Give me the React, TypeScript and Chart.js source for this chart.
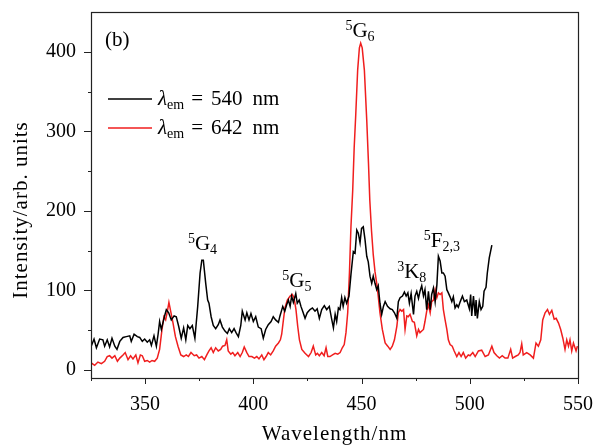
import React, { useEffect, useRef } from 'react';
import { Chart, registerables } from 'chart.js';

Chart.register(...registerables);

const blackWavelengths = [
  325.1, 326.4, 327.5, 329.0, 330.5, 331.3, 332.5, 333.6, 334.7, 336.0,
  337.0, 338.3, 339.8, 341.3, 342.9, 343.6, 344.9, 346.4, 347.5, 348.7,
  349.8, 351.0, 352.1, 352.9, 354.1, 355.2, 356.0, 356.7, 357.5, 359.0,
  359.8, 360.9, 362.1, 363.4, 364.4, 365.5, 366.7, 367.8, 368.8, 369.7,
  370.7, 371.8, 373.0, 374.3, 375.4, 376.2, 376.9, 378.0, 378.9, 379.5,
  380.5, 381.5, 382.6, 383.8, 384.6, 385.7, 386.9, 388.0, 388.9, 390.0,
  391.1, 392.0, 393.1, 394.2, 394.9, 396.2, 397.0, 398.0, 398.9, 400.0,
  401.1, 402.3, 403.6, 404.6, 405.7, 406.9, 408.2, 409.2, 410.3, 411.6,
  412.3, 413.6, 414.5, 415.4, 416.2, 417.0, 417.7, 418.5, 419.6, 420.3,
  421.2, 422.0, 422.8, 423.9, 424.9, 426.2, 427.3, 428.5, 429.5, 430.5,
  431.6, 432.8, 433.9, 435.1, 436.2, 437.0, 437.8, 438.5, 439.3, 440.0,
  440.8, 441.5, 442.3, 443.1, 444.2, 445.1, 446.2, 447.0, 447.8, 448.5,
  449.3, 450.0, 450.8, 451.6, 452.4, 453.1, 453.9, 454.7, 455.4, 456.2,
  457.0, 457.7, 458.5, 459.3, 460.1, 460.9, 462.0, 463.2, 464.2, 465.2,
  466.3, 467.0, 467.8, 468.9, 469.8, 470.6, 471.4, 472.1, 472.9, 474.0,
  474.7, 475.5, 476.3, 477.0, 477.8, 478.6, 479.3, 480.1, 480.9, 481.7,
  482.4, 483.2, 484.0, 484.8, 485.5, 486.3, 487.1, 487.8, 488.6, 489.4,
  490.1, 490.9, 491.7, 492.4, 493.2, 494.0, 494.7, 495.6, 496.6, 497.5,
  498.6, 499.8, 500.4, 500.9, 501.7, 502.5, 502.9, 503.5, 504.4, 505.2,
  506.0, 506.6, 507.5, 508.1, 509.0, 510.2,
];
const blackIntensity = [
  30, 39, 28, 39, 38, 30, 38, 29, 40, 30,
  26, 36, 41, 42, 43, 36, 45, 42, 41, 36,
  39, 35, 38, 31, 43, 30, 45, 61, 51, 68,
  76, 72, 63, 68, 67, 55, 40, 53, 38, 56,
  52, 56, 40, 80, 122, 138, 138, 109, 88, 84,
  67, 56, 52, 57, 63, 54, 49, 46, 52, 47,
  52, 47, 42, 56, 74, 63, 72, 63, 71, 61,
  67, 54, 52, 40, 51, 57, 61, 67, 63, 60,
  68, 80, 74, 82, 88, 80, 93, 85, 96, 84,
  88, 80, 74, 65, 72, 76, 78, 74, 77, 65,
  76, 81, 76, 80, 64, 53, 70, 61, 78, 76,
  91, 80, 91, 84, 93, 120, 149, 147, 176, 172,
  160, 178, 180, 164, 143, 136, 118, 109, 118, 109,
  101, 106, 84, 70, 80, 86, 80, 77, 76, 72,
  65, 86, 91, 93, 98, 93, 97, 84, 96, 70,
  93, 99, 90, 99, 106, 93, 101, 76, 99, 76,
  95, 103, 86, 107, 143, 137, 122, 122, 118, 101,
  97, 92, 86, 92, 78, 82, 79, 86, 93, 86,
  88, 77, 95, 68, 93, 68, 88, 65, 86, 76,
  80, 99, 104, 122, 141, 157,
];

const redWavelengths = [
  325.1, 326.7, 328.2, 329.8, 331.3, 332.5, 333.6, 334.7, 336.0, 337.2,
  338.3, 339.8, 340.8, 342.1, 343.3, 344.4, 345.7, 346.7, 347.8, 348.7,
  349.8, 351.0, 352.1, 353.2, 354.4, 355.6, 356.7, 357.8, 358.7, 359.5,
  360.3, 361.0, 361.8, 362.9, 364.0, 365.2, 366.5, 367.8, 369.0, 370.0,
  371.2, 372.7, 373.8, 374.9, 376.2, 377.4, 378.5, 379.5, 380.5, 381.5,
  382.6, 383.8, 384.9, 385.8, 386.9, 387.7, 388.4, 389.6, 390.5, 391.5,
  392.8, 393.9, 394.9, 395.8, 397.0, 398.0, 399.3, 400.5, 401.6, 402.6,
  403.9, 404.9, 405.9, 406.9, 408.0, 409.2, 410.3, 411.6, 412.5, 413.1,
  413.9, 414.6, 415.7, 417.0, 418.0, 418.8, 419.7, 420.5, 421.3, 422.4,
  423.9, 425.5, 426.7, 427.7, 428.8, 429.6, 430.5, 431.6, 432.7, 433.6,
  434.4, 435.4, 436.6, 437.8, 439.0, 440.1, 441.1, 442.0, 442.8, 443.6,
  444.4, 445.1, 445.9, 446.6, 447.3, 448.2, 449.0, 449.6, 450.3, 451.3,
  452.4, 453.2, 453.8, 454.6, 455.4, 456.2, 457.0, 457.7, 458.5, 459.6,
  460.9, 462.1, 463.2, 464.2, 465.2, 466.3, 467.0, 467.8, 468.6, 469.4,
  470.1, 470.9, 471.6, 472.4, 473.5, 474.4, 475.5, 476.3, 477.0, 477.8,
  478.6, 479.3, 480.1, 480.9, 481.7, 482.4, 483.2, 484.0, 484.8, 485.5,
  486.3, 487.1, 487.8, 488.6, 489.4, 490.1, 490.9, 491.9, 492.8, 494.0,
  495.0, 496.0, 497.0, 498.1, 499.3, 500.1, 501.4, 502.5, 504.0, 505.5,
  507.1, 508.6, 510.2, 511.2, 512.5, 513.7, 515.0, 516.3, 517.6, 518.9,
  519.8, 521.0, 522.4, 523.2, 524.0, 524.7, 526.3, 527.9, 529.4, 530.6,
  531.7, 532.8, 533.7, 534.8, 535.9, 536.8, 537.9, 539.0, 539.9, 541.0,
  542.0, 543.0, 544.0, 544.8, 545.6, 546.3, 547.1, 547.9, 549.1, 549.7,
];
const redIntensity = [
  9, 6, 10, 8, 11, 17, 18, 15, 18, 11,
  15, 19, 22, 13, 18, 14, 19, 9, 19, 18,
  11, 12, 10, 12, 11, 15, 26, 51, 67, 63,
  74, 85, 74, 59, 42, 30, 19, 17, 19, 17,
  22, 18, 19, 15, 17, 13, 19, 24, 28, 22,
  28, 24, 26, 30, 31, 38, 24, 20, 22, 18,
  22, 17, 22, 29, 22, 17, 17, 15, 17, 14,
  19, 13, 17, 22, 19, 24, 30, 34, 38, 45,
  63, 78, 88, 93, 95, 91, 76, 55, 38, 26,
  21, 17, 22, 30, 19, 21, 18, 22, 18, 28,
  17, 17, 19, 21, 20, 22, 28, 32, 47, 72,
  122, 180, 225, 280, 320, 377, 405, 411, 405, 377,
  314, 260, 214, 175, 145, 124, 109, 93, 72, 51,
  34, 30, 26, 30, 38, 55, 72, 76, 74, 76,
  51, 68, 67, 70, 61, 60, 43, 51, 47, 49,
  51, 61, 74, 82, 72, 86, 88, 101, 91, 97,
  95, 97, 76, 63, 51, 38, 32, 30, 24, 17,
  22, 17, 22, 15, 19, 18, 22, 17, 24, 25,
  17, 19, 30, 22, 18, 15, 18, 15, 15, 26,
  15, 17, 19, 22, 33, 19, 22, 19, 15, 34,
  30, 38, 63, 72, 76, 70, 75, 64, 65, 59,
  51, 40, 26, 38, 30, 38, 24, 34, 24, 30,
];

const xTickValues = [350, 400, 450, 500, 550];
const yTickValues = [0, 100, 200, 300, 400];
const legendWavelengths = ['540', '642'];
const seriesColors = ['#000000', '#f01e1e'];

// peak labels: superscript, letter, subscript, anchored in data units (nm, intensity)
const peakPre = ['5', '5', '5', '3', '5'];
const peakMain = ['G', 'G', 'G', 'K', 'F'];
const peakSub = ['4', '5', '6', '8', '2,3'];
const peakNm = [376.5, 420.1, 449.3, 473.2, 487.1];
const peakVal = [151, 105, 418, 116, 155];

const FONT = '"Liberation Serif", "DejaVu Serif", serif';

function zip(xs: number[], ys: number[]) {
  const n = Math.min(xs.length, ys.length);
  const out: { x: number; y: number }[] = [];
  for (let i = 0; i < n; i++) out.push({ x: xs[i], y: ys[i] });
  return out;
}

const decorPlugin = {
  id: 'decor',
  afterDraw(chart: any) {
    const { ctx, chartArea: a, scales } = chart;
    const xs = scales.x;
    const ys = scales.y;
    ctx.save();
    // frame
    ctx.strokeStyle = '#222';
    ctx.lineWidth = 1.2;
    ctx.strokeRect(Math.round(a.left) + 0.5, Math.round(a.top) + 0.5,
      Math.round(a.right - a.left), Math.round(a.bottom - a.top));
    // ticks
    ctx.lineWidth = 1;
    ctx.beginPath();
    for (let v = xs.min; v <= xs.max + 0.01; v += 25) {
      const px = Math.round(xs.getPixelForValue(v)) + 0.5;
      const len = v % 50 === 0 ? 6 : 3;
      ctx.moveTo(px, a.bottom);
      ctx.lineTo(px, a.bottom + len);
    }
    for (let v = 0; v < ys.max; v += 50) {
      const py = Math.round(ys.getPixelForValue(v)) + 0.5;
      const len = v % 100 === 0 ? 7 : 3;
      ctx.moveTo(a.left, py);
      ctx.lineTo(a.left - len, py);
    }
    ctx.stroke();

    ctx.fillStyle = '#000';
    ctx.textBaseline = 'alphabetic';
    ctx.textAlign = 'left';
    // (b)
    ctx.font = `21px ${FONT}`;
    ctx.fillText('(b)', a.left + 14, a.top + 34);

    // legend
    chart.data.datasets.forEach((ds: any, i: number) => {
      const ly = a.top + 87 + i * 29;
      ctx.strokeStyle = ds.borderColor;
      ctx.lineWidth = 1.6;
      ctx.beginPath();
      ctx.moveTo(a.left + 17, ly);
      ctx.lineTo(a.left + 61, ly);
      ctx.stroke();
      let tx = a.left + 67;
      const base = ly + 6;
      ctx.font = `italic 21px ${FONT}`;
      ctx.fillText('λ', tx, base);
      tx += ctx.measureText('λ').width;
      ctx.font = `14px ${FONT}`;
      ctx.fillText('em', tx, base + 4);
      tx += ctx.measureText('em').width + 7;
      ctx.font = `21px ${FONT}`;
      ctx.fillText('=', tx, base);
      tx += ctx.measureText('=').width + 8;
      ctx.fillText(legendWavelengths[i], tx, base);
      tx += ctx.measureText(legendWavelengths[i]).width + 10;
      ctx.fillText('nm', tx, base);
    });

    // peak labels
    for (let i = 0; i < peakMain.length; i++) {
      const cx = xs.getPixelForValue(peakNm[i]);
      const by = ys.getPixelForValue(peakVal[i]);
      ctx.font = `14px ${FONT}`;
      const wPre = ctx.measureText(peakPre[i]).width;
      const wSub = ctx.measureText(peakSub[i]).width;
      ctx.font = `21px ${FONT}`;
      const wMain = ctx.measureText(peakMain[i]).width;
      let tx = cx - (wPre + wMain + wSub) / 2;
      ctx.font = `14px ${FONT}`;
      ctx.fillText(peakPre[i], tx, by - 7);
      tx += wPre;
      ctx.font = `21px ${FONT}`;
      ctx.fillText(peakMain[i], tx, by);
      tx += wMain;
      ctx.font = `14px ${FONT}`;
      ctx.fillText(peakSub[i], tx, by + 4);
    }

    // axis titles
    ctx.font = `21px ${FONT}`;
    try { (ctx as any).letterSpacing = '1px'; } catch (e) { /* ignore */ }
    ctx.textAlign = 'center';
    ctx.textBaseline = 'middle';
    ctx.fillText('Wavelength/nm', (a.left + a.right) / 2, 434);
    ctx.translate(21, 210);
    ctx.rotate(-Math.PI / 2);
    ctx.fillText('Intensity/arb. units', 0, 0);
    try { (ctx as any).letterSpacing = '0px'; } catch (e) { /* ignore */ }
    ctx.restore();
  },
};

export default function App() {
  const ref = useRef<HTMLCanvasElement | null>(null);
  useEffect(() => {
    if (!ref.current) return;
    const chart = new Chart(ref.current, {
      type: 'line',
      data: {
        datasets: [
          {
            label: 'λem = 540 nm',
            data: zip(blackWavelengths, blackIntensity),
            borderColor: seriesColors[0],
            borderWidth: 1.5,
            pointRadius: 0,
            tension: 0,
          },
          {
            label: 'λem = 642 nm',
            data: zip(redWavelengths, redIntensity),
            borderColor: seriesColors[1],
            borderWidth: 1.5,
            pointRadius: 0,
            tension: 0,
          },
        ],
      },
      options: {
        animation: false,
        responsive: false,
        devicePixelRatio: 1,
        layout: { padding: { left: 0, top: 12, right: 27, bottom: 0 } },
        plugins: { legend: { display: false }, tooltip: { enabled: false } },
        scales: {
          x: {
            type: 'linear',
            min: 325,
            max: 550,
            grid: { display: false, drawTicks: false },
            border: { display: false },
            afterBuildTicks: (s: any) => { s.ticks = xTickValues.map((value) => ({ value })); },
            afterFit: (s: any) => {
              s.height = 67;
              s.paddingLeft = 0; s.paddingRight = 0; s.paddingTop = 0; s.paddingBottom = 0;
            },
            ticks: {
              color: '#000',
              padding: 15,
              maxRotation: 0,
              autoSkip: false,
              font: { family: FONT, size: 20 },
            },
          },
          y: {
            min: -10,
            max: 450,
            grid: { display: false, drawTicks: false },
            border: { display: false },
            afterBuildTicks: (s: any) => { s.ticks = yTickValues.map((value) => ({ value })); },
            afterFit: (s: any) => {
              s.width = 91;
              s.paddingLeft = 0; s.paddingRight = 0; s.paddingTop = 0; s.paddingBottom = 0;
            },
            ticks: {
              color: '#000',
              padding: 15,
              autoSkip: false,
              font: { family: FONT, size: 20 },
            },
          },
        },
      },
      plugins: [decorPlugin],
    } as any);
    return () => chart.destroy();
  }, []);
  return (
    <div style={{ position: 'absolute', left: 0, top: 0, width: 605, height: 445, background: '#fff' }}>
      <canvas ref={ref} width={605} height={445} style={{ display: 'block' }} />
    </div>
  );
}
